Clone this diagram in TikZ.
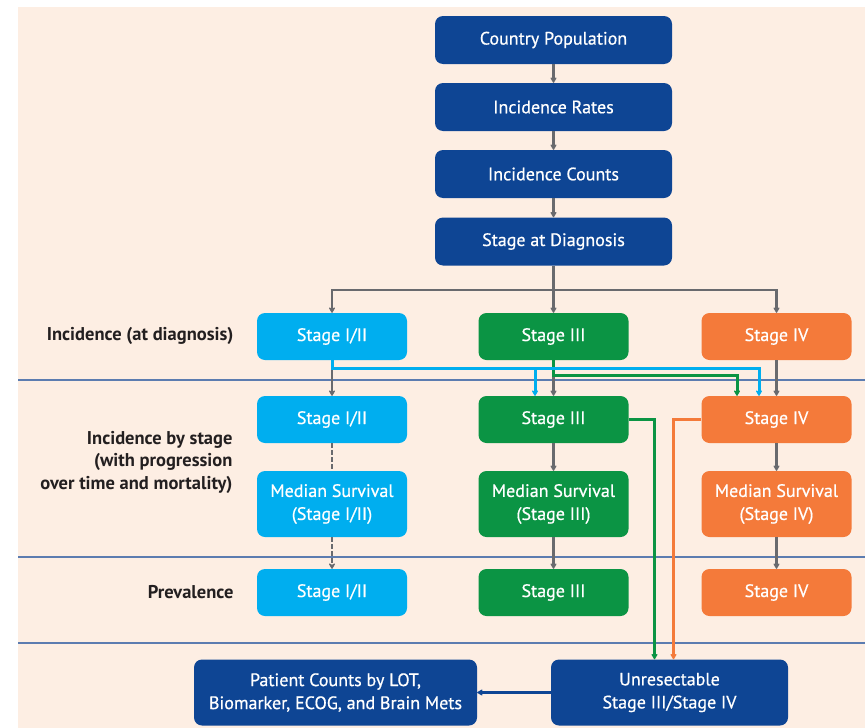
\documentclass[tikz,border=0pt]{standalone}
\usepackage{fontspec}
\setmainfont{PT Sans}
\newfontfamily\boxfont[FakeBold=0.6]{PT Sans}
\usetikzlibrary{arrows.meta}
\definecolor{navy}{RGB}{14,69,148}
\definecolor{skyb}{RGB}{0,174,239}
\definecolor{grn}{RGB}{11,148,68}
\definecolor{orng}{RGB}{244,122,58}
\definecolor{peach}{RGB}{253,238,227}
\definecolor{rule}{RGB}{92,124,176}
\definecolor{conn}{RGB}{105,106,110}
\definecolor{ink}{RGB}{35,31,32}
\tikzset{
  box/.style={rounded corners=8pt, text=white, align=center,
    font=\boxfont\fontsize{18}{23}\selectfont, inner sep=2pt},
  topbox/.style={box, fill=navy, minimum width=237pt, minimum height=48pt},
  stbox/.style={box, minimum width=150pt, minimum height=47pt},
  msbox/.style={box, minimum width=150pt, minimum height=66pt},
  lab/.style={anchor=east, align=right, text=ink,
    font=\bfseries\fontsize{18.5}{22.5}\selectfont},
  tip/.style={-{Stealth[length=7pt,width=8pt,inset=2.5pt,round]}},
  garr/.style={draw=conn, line width=2.6pt, tip},
  gdash/.style={draw=conn, line width=2.8pt, dash pattern=on 4.5pt off 2.5pt},
  carr/.style={line width=3pt, tip},
  divider/.style={draw=rule, line width=1.2pt}
}
\begin{document}
\begin{tikzpicture}[x=1pt,y=-1pt]
  \useasboundingbox (0,0) rectangle (865,728);
  \fill[peach] (18,7) rectangle (865,728);

  % section dividers
  \draw[divider] (18,380) -- (865,380);
  \draw[divider] (18,557) -- (865,557);
  \draw[divider] (18,643) -- (865,643);

  % row labels
  \node[lab] (l1) at (237,336) {Incidence (at diagnosis)};
  \node[lab] (l2) at (236,462) {Incidence by stage\\(with progression\\over time and mortality)};
  \node[lab] (l3) at (237,592) {Prevalence};

  % top chain
  \node[topbox] (cp) at (553.5,40) {Country Population};
  \node[topbox] (ir) at (553.5,107) {Incidence Rates};
  \node[topbox] (ic) at (553.5,174) {Incidence Counts};
  \node[topbox] (sd) at (553.5,241.5) {Stage at Diagnosis};

  % incidence at diagnosis
  \node[stbox, fill=skyb] (a1) at (332,336.5) {Stage I/II};
  \node[stbox, fill=grn]  (b1) at (553.5,336.5) {Stage III};
  \node[stbox, fill=orng] (c1) at (776.5,336.5) {Stage IV};

  % incidence by stage
  \node[stbox, fill=skyb] (a2) at (332,419.5) {Stage I/II};
  \node[stbox, fill=grn]  (b2) at (553.5,419.5) {Stage III};
  \node[stbox, fill=orng] (c2) at (776.5,419.5) {Stage IV};

  \node[msbox, fill=skyb] (a3) at (332,504) {Median Survival\\(Stage I/II)};
  \node[msbox, fill=grn]  (b3) at (553.5,504) {Median Survival\\(Stage III)};
  \node[msbox, fill=orng] (c3) at (776.5,504) {Median Survival\\(Stage IV)};

  % prevalence
  \node[stbox, fill=skyb] (a4) at (332,592.5) {Stage I/II};
  \node[stbox, fill=grn]  (b4) at (553.5,592.5) {Stage III};
  \node[stbox, fill=orng] (c4) at (776.5,592.5) {Stage IV};

  % bottom row
  \node[box, fill=navy, minimum width=283pt, minimum height=66pt] (pc) at (335.5,692.5)
    {Patient Counts by LOT,\\Biomarker, ECOG, and Brain Mets};
  \node[box, fill=navy, minimum width=237pt, minimum height=66pt] (un) at (669.5,692.5)
    {Unresectable\\Stage III/Stage IV};

  % top chain connectors
  \draw[garr] (cp) -- (ir);
  \draw[garr] (ir) -- (ic);
  \draw[garr] (ic) -- (sd);
  \coordinate (br) at (553.5,290);
  \draw[garr] (sd) -- (b1);
  \draw[garr] (br) -| (a1.north);
  \draw[garr] (br) -| (c1.north);

  % diagnosis to by-stage
  \draw[garr] (a1) -- (a2);
  \draw[garr] (b1) -- (b2);
  \draw[garr] (c1) -- (c2);

  % stage III progressing to stage IV
  \coordinate (g1) at (553.5,375);
  \coordinate (g2) at (737,375);
  \draw[carr, draw=grn] (b1.south) -- (g1) -- (g2) -- (g2 |- c2.north);

  % stage I/II progressing to stage III and IV
  \coordinate (s1) at (332,368);
  \coordinate (s2) at (535,368);
  \coordinate (s3) at (759,368);
  \draw[carr, draw=skyb] (a1.south) -- (s1) -- (s3) -- (s3 |- c2.north);
  \draw[carr, draw=skyb] (s2) -- (s2 |- b2.north);

  % survival and prevalence
  \draw[gdash] (a2) -- (a3);
  \draw[gdash, tip] (a3) -- (a4);
  \draw[garr] (b2) -- (b3);
  \draw[garr] (b3) -- (b4);
  \draw[garr] (c2) -- (c3);
  \draw[garr] (c3) -- (c4);

  % feeds into unresectable
  \coordinate (gx) at (654.5,419.5);
  \coordinate (ox) at (673.5,419.5);
  \draw[carr, draw=grn] (b2.east) -- (gx) -- (gx |- un.north);
  \draw[carr, draw=orng] (c2.west) -- (ox) -- (ox |- un.north);

  \draw[draw=navy, line width=3pt, tip] (un) -- (pc);
\end{tikzpicture}
\end{document}
